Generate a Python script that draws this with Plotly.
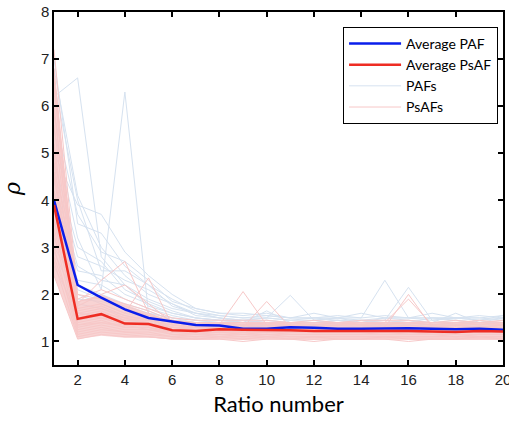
import plotly.graph_objects as go

ratio = list(range(1, 21))

avg_paf = [4.0, 2.2, 1.93, 1.68, 1.5, 1.43, 1.35, 1.34, 1.27, 1.27, 1.30, 1.29, 1.27, 1.27, 1.28, 1.28, 1.27, 1.26, 1.27, 1.25]
avg_psaf = [3.9, 1.48, 1.58, 1.38, 1.37, 1.24, 1.22, 1.26, 1.25, 1.25, 1.24, 1.22, 1.22, 1.22, 1.23, 1.22, 1.21, 1.20, 1.22, 1.21]

pafs = [
    [6.8, 4.1, 3.0, 2.4, 2.0, 1.8, 1.6, 1.5, 1.45, 1.5, 1.45, 1.45, 1.5, 1.4, 1.5, 1.45, 1.4, 1.45, 1.4, 1.45],
    [6.2, 6.6, 2.8, 2.2, 1.9, 1.7, 1.6, 1.5, 1.4, 1.45, 1.4, 1.4, 1.45, 1.4, 1.4, 1.4, 1.35, 1.4, 1.4, 1.4],
    [5.5, 3.2, 2.1, 6.3, 1.6, 1.5, 1.45, 1.4, 1.35, 1.4, 1.35, 1.35, 1.4, 1.35, 1.35, 1.4, 1.35, 1.35, 1.3, 1.35],
    [5.0, 3.9, 3.7, 2.9, 2.4, 2.0, 1.7, 1.6, 1.55, 1.6, 1.5, 1.5, 1.55, 1.5, 2.3, 1.5, 1.5, 1.5, 1.45, 1.5],
    [4.6, 2.8, 2.6, 2.3, 2.1, 1.8, 1.55, 1.5, 1.45, 1.5, 1.98, 1.45, 1.5, 1.45, 1.45, 2.15, 1.45, 1.5, 1.45, 1.55],
    [4.2, 2.5, 2.4, 2.0, 1.8, 1.6, 1.5, 1.45, 1.4, 1.45, 1.4, 1.45, 1.4, 1.4, 1.45, 1.4, 1.4, 1.6, 1.4, 1.4],
    [3.8, 2.3, 2.2, 1.9, 1.7, 1.55, 1.45, 1.4, 1.35, 1.4, 1.35, 1.35, 1.35, 1.3, 1.4, 1.35, 1.35, 1.35, 1.3, 1.35],
    [3.5, 2.1, 1.9, 1.75, 1.6, 1.5, 1.4, 1.35, 1.3, 1.35, 1.3, 1.3, 1.3, 1.3, 1.35, 1.3, 1.3, 1.3, 1.3, 1.3],
    [3.2, 2.0, 1.8, 1.6, 1.5, 1.4, 1.35, 1.3, 1.3, 1.3, 1.3, 1.25, 1.3, 1.25, 1.3, 1.3, 1.25, 1.3, 1.25, 1.3],
    [2.9, 1.8, 1.7, 1.55, 1.45, 1.35, 1.3, 1.3, 1.25, 1.25, 1.25, 1.25, 1.25, 1.25, 1.25, 1.25, 1.25, 1.25, 1.25, 1.25],
    [2.6, 1.6, 1.55, 1.45, 1.4, 1.3, 1.25, 1.25, 1.2, 1.25, 1.2, 1.2, 1.2, 1.2, 1.2, 1.2, 1.2, 1.2, 1.2, 1.2],
    [7.0, 3.5, 3.3, 2.6, 2.2, 1.9, 1.65, 1.55, 1.5, 1.55, 1.5, 1.5, 1.5, 1.6, 1.5, 1.5, 1.6, 1.5, 1.5, 1.55],
    [5.8, 3.7, 2.9, 2.7, 2.3, 1.85, 1.7, 1.6, 1.6, 1.55, 1.5, 1.6, 1.5, 1.5, 1.55, 1.5, 1.5, 1.5, 1.55, 1.5],
    [4.8, 3.0, 2.7, 2.1, 1.85, 1.65, 1.5, 1.45, 1.4, 1.65, 1.4, 1.4, 1.45, 1.4, 1.4, 1.45, 1.4, 1.4, 1.4, 1.4],
    [4.4, 2.6, 2.3, 2.2, 1.75, 1.6, 1.5, 1.45, 1.45, 1.4, 1.4, 1.4, 1.4, 1.45, 1.4, 1.4, 1.5, 1.45, 1.4, 1.5],
    [3.0, 2.2, 2.0, 1.8, 1.65, 1.45, 1.4, 1.35, 1.35, 1.35, 1.35, 1.3, 1.35, 1.35, 1.3, 1.35, 1.3, 1.35, 1.35, 1.35],
    [6.5, 4.0, 2.5, 2.5, 2.2, 1.75, 1.6, 1.55, 1.5, 1.5, 1.45, 1.5, 1.45, 1.45, 1.5, 1.5, 1.45, 1.5, 1.5, 1.45],
    [3.6, 1.9, 1.85, 1.7, 1.55, 1.4, 1.35, 1.3, 1.3, 1.3, 1.3, 1.3, 1.3, 1.3, 1.3, 1.3, 1.3, 1.3, 1.3, 1.3],
]

psafs = [
    [7.2, 2.0, 1.9, 1.7, 1.55, 1.45, 1.4, 1.4, 1.4, 1.35, 1.4, 1.35, 1.35, 1.4, 1.35, 1.4, 1.35, 1.4, 1.35, 1.4],
    [6.8, 1.8, 2.3, 2.7, 1.6, 1.4, 1.35, 1.35, 2.06, 1.35, 1.35, 1.3, 1.35, 1.35, 1.3, 1.35, 1.3, 1.35, 1.3, 1.35],
    [6.4, 1.7, 1.8, 1.6, 2.35, 1.35, 1.3, 1.3, 1.3, 1.85, 1.3, 1.3, 1.3, 1.3, 1.3, 2.0, 1.3, 1.3, 1.3, 1.3],
    [6.0, 1.6, 1.7, 1.5, 1.5, 1.3, 1.3, 1.3, 1.3, 1.3, 1.3, 1.25, 1.3, 1.25, 1.3, 1.25, 1.3, 1.25, 1.3, 1.25],
    [5.6, 1.55, 1.65, 1.45, 1.45, 1.3, 1.25, 1.3, 1.25, 1.25, 1.25, 1.25, 1.25, 1.25, 1.25, 1.25, 1.25, 1.25, 1.25, 1.3],
    [5.2, 1.5, 1.6, 1.4, 1.4, 1.25, 1.25, 1.25, 1.25, 1.25, 1.25, 1.2, 1.25, 1.2, 1.25, 1.2, 1.25, 1.2, 1.25, 1.2],
    [4.8, 1.45, 1.55, 1.4, 1.35, 1.25, 1.2, 1.25, 1.2, 1.2, 1.2, 1.2, 1.2, 1.2, 1.2, 1.2, 1.2, 1.2, 1.2, 1.2],
    [4.5, 1.4, 1.5, 1.35, 1.35, 1.2, 1.2, 1.2, 1.2, 1.2, 1.2, 1.2, 1.2, 1.2, 1.2, 1.2, 1.15, 1.2, 1.2, 1.2],
    [4.2, 1.35, 1.45, 1.3, 1.3, 1.2, 1.15, 1.2, 1.15, 1.2, 1.15, 1.15, 1.15, 1.15, 1.2, 1.15, 1.15, 1.15, 1.15, 1.15],
    [3.9, 1.3, 1.4, 1.3, 1.3, 1.15, 1.15, 1.15, 1.15, 1.15, 1.15, 1.15, 1.15, 1.15, 1.15, 1.15, 1.15, 1.1, 1.15, 1.15],
    [3.6, 1.25, 1.35, 1.25, 1.25, 1.15, 1.1, 1.15, 1.1, 1.15, 1.1, 1.1, 1.1, 1.1, 1.1, 1.1, 1.1, 1.1, 1.1, 1.1],
    [3.3, 1.2, 1.3, 1.2, 1.2, 1.1, 1.1, 1.1, 1.1, 1.1, 1.1, 1.1, 1.1, 1.1, 1.1, 1.1, 1.1, 1.1, 1.1, 1.1],
    [3.0, 1.15, 1.25, 1.2, 1.15, 1.1, 1.05, 1.1, 1.05, 1.1, 1.05, 1.1, 1.05, 1.05, 1.1, 1.05, 1.05, 1.05, 1.1, 1.05],
    [2.7, 1.1, 1.2, 1.15, 1.1, 1.05, 1.05, 1.05, 1.05, 1.05, 1.05, 1.05, 1.05, 1.05, 1.05, 1.05, 1.05, 1.05, 1.05, 1.05],
    [2.4, 1.05, 1.15, 1.1, 1.1, 1.05, 1.05, 1.05, 1.0, 1.05, 1.05, 1.0, 1.05, 1.05, 1.05, 1.0, 1.05, 1.05, 1.05, 1.05],
    [5.9, 1.9, 2.1, 1.9, 1.7, 1.5, 1.45, 1.45, 1.45, 1.45, 1.4, 1.45, 1.4, 1.45, 1.45, 1.45, 1.4, 1.45, 1.4, 1.45],
    [5.0, 1.75, 2.0, 2.2, 1.8, 1.4, 1.35, 1.4, 1.35, 1.4, 1.35, 1.35, 1.4, 1.35, 1.4, 1.9, 1.35, 1.35, 1.4, 1.35],
    [4.0, 1.65, 1.75, 1.55, 1.45, 1.35, 1.3, 1.35, 1.35, 1.3, 1.35, 1.3, 1.3, 1.3, 1.3, 1.3, 1.3, 1.3, 1.3, 1.3],
    [3.4, 1.5, 1.6, 1.5, 1.4, 1.3, 1.25, 1.3, 1.3, 1.25, 1.3, 1.25, 1.25, 1.25, 1.3, 1.25, 1.25, 1.3, 1.25, 1.25],
    [6.6, 1.85, 1.95, 1.8, 1.65, 1.45, 1.4, 1.4, 1.4, 1.4, 1.4, 1.4, 1.4, 1.4, 1.4, 1.4, 1.4, 1.4, 1.45, 1.4],
    [2.8, 1.35, 1.4, 1.35, 1.25, 1.2, 1.2, 1.2, 1.2, 1.2, 1.2, 1.2, 1.2, 1.2, 1.2, 1.2, 1.2, 1.2, 1.2, 1.2],
    [4.6, 1.6, 1.5, 1.45, 1.5, 1.25, 1.2, 1.25, 1.25, 1.25, 1.2, 1.25, 1.2, 1.25, 1.2, 1.25, 1.2, 1.25, 1.2, 1.25],
]

# dense core of the PsAF bundle (lower / upper envelope)
psaf_low = [2.4, 1.05, 1.12, 1.08, 1.08, 1.05, 1.04, 1.05, 1.03, 1.05, 1.04, 1.03, 1.04, 1.04, 1.04, 1.03, 1.04, 1.04, 1.05, 1.05]
psaf_high = [6.8, 1.85, 2.0, 1.8, 1.6, 1.45, 1.4, 1.42, 1.42, 1.42, 1.4, 1.4, 1.4, 1.42, 1.42, 1.42, 1.4, 1.42, 1.42, 1.42]

x_ticks = list(range(2, 21, 2))
y_ticks = list(range(1, 9))

C_PAF_LIGHT = "rgb(214,226,240)"
C_PSAF_LIGHT = "rgb(247,200,200)"
C_PAF = "rgb(10,30,235)"
C_PSAF = "rgb(238,45,35)"

fig = go.Figure()

for i, ys in enumerate(pafs):
    fig.add_trace(go.Scatter(x=ratio, y=ys, mode="lines", name="PAFs",
                             line=dict(color=C_PAF_LIGHT, width=1),
                             legendgroup="pafs", showlegend=(i == 0), legendrank=3,
                             hoverinfo="skip"))

fig.add_trace(go.Scatter(x=ratio, y=psaf_low, mode="lines", line=dict(width=0, color=C_PSAF_LIGHT),
                         showlegend=False, hoverinfo="skip", legendgroup="psafs"))
fig.add_trace(go.Scatter(x=ratio, y=psaf_high, mode="lines", line=dict(width=0, color=C_PSAF_LIGHT),
                         fill="tonexty", fillcolor="rgba(246,196,196,0.75)",
                         showlegend=False, hoverinfo="skip", legendgroup="psafs"))

for i, ys in enumerate(psafs):
    fig.add_trace(go.Scatter(x=ratio, y=ys, mode="lines", name="PsAFs",
                             line=dict(color=C_PSAF_LIGHT, width=1),
                             legendgroup="psafs", showlegend=(i == 0), legendrank=4,
                             hoverinfo="skip"))

fig.add_trace(go.Scatter(x=ratio, y=avg_paf, mode="lines", name="Average PAF",
                         line=dict(color=C_PAF, width=2.5), legendrank=1))
fig.add_trace(go.Scatter(x=ratio, y=avg_psaf, mode="lines", name="Average PsAF",
                         line=dict(color=C_PSAF, width=2.5), legendrank=2))

axis_common = dict(showline=True, linecolor="black", linewidth=1.5, mirror="ticks",
                   ticks="inside", ticklen=5, tickwidth=1.5, tickcolor="black",
                   showgrid=False, zeroline=False, automargin=False,
                   ticklabeloverflow="allow",
                   tickfont=dict(family="Liberation Sans, Arial", size=15, color="#222"))

fig.update_layout(
    width=509, height=430,
    margin=dict(l=54, r=6, t=12, b=65),
    paper_bgcolor="white", plot_bgcolor="white",
    xaxis=dict(range=[1, 20.0001], tickvals=x_ticks,
               title=dict(text="Ratio number", font=dict(family="Lato", size=22, color="black"), standoff=10),
               **axis_common),
    yaxis=dict(range=[0.5, 8.0001], tickvals=y_ticks,
               title=dict(text="<i>ρ</i>", font=dict(family="DejaVu Serif", size=22, color="black"), standoff=28),
               **axis_common),
    legend=dict(x=0.989, y=0.958, xanchor="right", yanchor="top",
                bgcolor="white", bordercolor="black", borderwidth=1,
                font=dict(family="Lato", size=14, color="black"),
                itemwidth=52, tracegroupgap=0),
)

fig.write_html("out.html", config={"displayModeBar": False},
               post_script="document.body.style.margin='0';")
